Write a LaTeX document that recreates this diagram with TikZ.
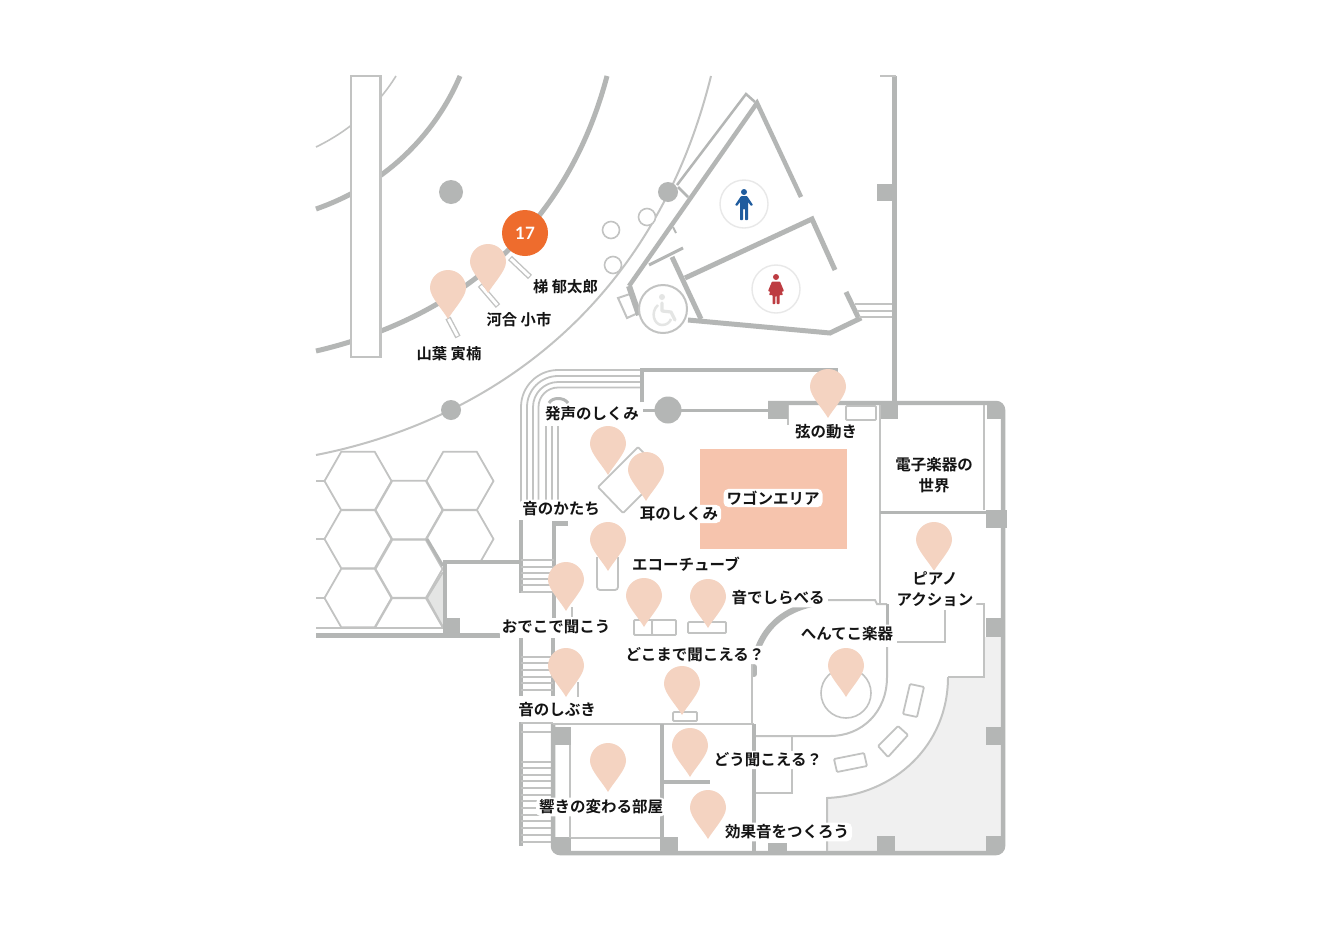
\documentclass[tikz,border=0pt]{standalone}
\usepackage{fontspec}
\setmainfont{Noto Sans CJK JP}[BoldFont=* Bold]
\newfontfamily\numfont{Lato}[UprightFont=* Bold]
\definecolor{wall}{HTML}{B4B6B5}
\definecolor{thin}{HTML}{C2C3C2}
\definecolor{pinc}{HTML}{F4D3C1}
\definecolor{pinkarea}{HTML}{F6C4AD}
\definecolor{orangec}{HTML}{EE6C2D}
\definecolor{lightg}{HTML}{F0F0F0}
\definecolor{tri}{HTML}{E4E5E4}
\definecolor{bluep}{HTML}{1F5C9E}
\definecolor{redp}{HTML}{BD3C42}
\tikzset{
 w/.style={draw=wall,line width=#1,line cap=butt,line join=miter},
 w/.default=4.5,
 t/.style={draw=thin,line width=#1},
 t/.default=2,
 pillar/.style={fill=wall,draw=none},
 item/.style={draw=thin,line width=1.8,fill=white,rounded corners=1},
 lab/.style={inner xsep=3,inner ysep=2,outer sep=0,align=center,fill=white,rounded corners=5,font=\fontsize{15.5bp}{21bp}\selectfont\bfseries,text=black!92},
 nameplain/.style={inner sep=0,outer sep=0,align=center,font=\fontsize{15.3bp}{21bp}\selectfont\bfseries,text=black!92},
}
\newcommand{\pinat}[2]{\fill[pinc] (#1,#2) .. controls (#1-5,#2-9) and (#1-18,#2-22) .. (#1-18,#2-31) .. controls (#1-18,#2-41) and (#1-10,#2-49) .. (#1,#2-49) .. controls (#1+10,#2-49) and (#1+18,#2-41) .. (#1+18,#2-31) .. controls (#1+18,#2-22) and (#1+5,#2-9) .. cycle;}
\newcommand{\hexat}[2]{\draw[t=1.8,line join=round] (#1-33.5,#2) -- (#1-16.7,#2-29.3) -- (#1+16.7,#2-29.3) -- (#1+33.5,#2) -- (#1+16.7,#2+29.3) -- (#1-16.7,#2+29.3) -- cycle;}
\begin{document}
\begin{tikzpicture}[x=1bp,y=-1bp]
\useasboundingbox (0,0) rectangle (1328,940);
\fill[white] (0,0) rectangle (1328,940);
% --- gray area
\fill[lightg] (983,637) -- (1001,637) -- (1001,851) -- (827,851) -- (827,798) .. controls (895,795) and (948,745) .. (948,677) -- (983,677) -- cycle;
\fill[pinkarea] (700,449) rectangle (847,549);
% --- thin arcs
\draw[t=1.6] (316,147) .. controls (345,133) and (375,110) .. (396,76);
\draw[t=2] (316,455) .. controls (470,425) and (650,322) .. (711,76);
% --- thick arcs
\draw[w=5] (316,209) .. controls (385,185) and (435,135) .. (460,76);
\draw[w=5] (316,351) .. controls (450,320) and (565,235) .. (607,76);
\filldraw[draw=thin,line width=2.5,fill=white] (351,76) rectangle (380.5,357);
\fill[wall] (451,192) circle [radius=12];
\fill[wall] (451,410) circle [radius=10];
\fill[wall] (668,192) circle [radius=10];
\foreach \a/\b in {611/230,647/217,613/265} \draw[t=1.6,fill=white] (\a,\b) circle [radius=8.5];
% statues
\foreach \a/\b/\c/\d in {510/258/530/277,480/285/498/306,448/318/458/337}{
 \draw[draw=thin,line width=5.8] (\a,\b) -- (\c,\d);
 \draw[draw=white,line width=3,shorten >=1.2,shorten <=1.2] (\a,\b) -- (\c,\d);
}
% --- washrooms
\draw[w=2.5] (677,185) -- (746,94) -- (755,102);
\draw[w=2.5] (678,187) -- (688,197);
\draw[w=4.5,line join=miter] (629,286) -- (757,103) -- (801,197);
\draw[w=2] (673,227) -- (676,233);
\draw[w=3] (649,265) -- (683,248);
\draw[t=2,fill=white] (618,298) -- (630,294) -- (638,313) -- (627,318) -- cycle;
\draw[w=6] (629,286) -- (639,315);
\draw[w=5] (672,257) -- (701,319);
\draw[w=5] (688,320) -- (830,333) -- (859,319) -- (846,292);
\draw[w=5] (685,278) -- (812,219) -- (835,270);
\draw[t=2] (855,304) -- (892,304);
\draw[t=2] (857,311) -- (892,311);
\draw[t=2] (859,317) -- (892,317);
\draw[t=2,fill=white] (663,309) circle [radius=24];
\fill[tri] (662,297) circle [radius=3];
\draw[draw=tri,line width=3.2,line join=round,line cap=round] (662,303) -- (662,311) -- (671,312) -- (675,320);
\draw[draw=tri,line width=2.5] (658,305) .. controls (650,312) and (654,325) .. (662,325) .. controls (667,325) and (670,322) .. (671,319);
\draw[draw=black!9,line width=1.4,fill=white] (744,204) circle [radius=24];
\draw[draw=black!9,line width=1.4,fill=white] (776,289) circle [radius=24];
\fill[bluep] (744,192) circle [radius=3];
\fill[bluep,rounded corners=.7] (741,196) -- (747,196) -- (753,205) -- (751,206) -- (748,202) -- (748,220) -- (745,220) -- (745,209) -- (743,209) -- (743,220) -- (740,220) -- (740,202) -- (737,206) -- (735,205) -- cycle;
\fill[redp] (776,277) circle [radius=3];
\fill[redp,rounded corners=.7] (772,281.5) -- (780,281.5) -- (784,291) -- (782,292) -- (780.5,288) -- (783,295) -- (779.5,295) -- (779.5,304) -- (776.7,304) -- (776.7,296) -- (775.3,296) -- (775.3,304) -- (772.5,304) -- (772.5,295) -- (769,295) -- (771.5,288) -- (770,292) -- (768,291) -- cycle;
% right long wall
\draw[w=5] (894,76) -- (894,403);
\draw[t=2] (880,76) -- (896,76);
\fill[pillar] (877,184) rectangle (892,201);
% --- hexagons
\begin{scope}
\clip (316,450) rectangle (443,628);
\foreach \a/\b in {358/481,358/539,358/598,409/510,409/569,409/627}{\hexat{\a}{\b}}
\end{scope}
\begin{scope}
\clip (316,450) rectangle (500,562);
\foreach \a/\b in {460/481,460/539}{\hexat{\a}{\b}}
\end{scope}
\draw[t=1.8] (316,481) -- (325,481);
\draw[t=1.8] (316,539) -- (325,539);
\draw[t=1.8] (316,598) -- (325,598);
\draw[t=1.5] (316,628) -- (445,628);
\fill[tri] (427,598) -- (443,572) -- (443,627) -- cycle;
\draw[t=1.8] (427,598) -- (443,572);
\draw[t=1.8] (427,598) -- (443,627);
\draw[w=3] (427,539) -- (443,566);
% --- room at left
\draw[w=5] (500,635) -- (316,635);
\draw[w=5] (445,635) -- (445,562);
\draw[w=4.5] (443,562) -- (521,562);
\fill[pillar] (445,618) rectangle (460,636);
% --- curved stairs
\foreach \r in {37,31,25,19.5}{
 \draw[t=1.8] (640,407-\r) -- (558,407-\r) .. controls (558-.55*\r,407-\r) and (558-\r,407-.55*\r) .. (558-\r,407) -- (558-\r,502);
}
\draw[t=1.8] (546,426) -- (546,502);
\draw[t=1.8] (552,426) -- (552,502);
\draw[t=1.8] (558,426) -- (558,502);
\draw[w=3] (549,403) .. controls (552,397) and (564,397) .. (568,403);
\draw[w=4.5] (642,402) -- (642,370) -- (838,370);
\draw[w=3] (643,410) -- (770,410);
\fill[wall] (668,410) circle [radius=13.5];
% stairs left straight
\draw[w=4] (521,520) -- (521,593);
\draw[w=4] (554,523) -- (554,620);
\draw[w=5] (552,523) -- (568,523);
\foreach \y in {560,567,573,579,585,592} \draw[t=1.6] (521,\y) -- (554,\y);
\draw[t=1.4] (572,607) -- (572,617);
\draw[w=4] (521,638) -- (521,696);
\draw[w=4] (553,638) -- (553,696);
\foreach \y in {657,663,670,677,683,690} \draw[t=1.6] (521,\y) -- (553,\y);
\draw[t=1.4] (578,682) -- (578,697);
\draw[w=4] (521,722) -- (521,846);
\foreach \y in {723,732,762,768,775,781,788,795,801,808,815,821,828,835,842} \draw[t=1.6] (521,\y) -- (553,\y);
% --- items
\draw[item] (638,447) -- (663,473) -- (623,513) -- (598,487) -- cycle;
\draw[t=1.8,rounded corners=3] (597,557) -- (597,590) -- (618,590) -- (618,557);
\draw[item] (634,620) rectangle (653,635);
\draw[item] (652,620) rectangle (676,635);
\draw[item] (688,622) rectangle (726,633);
\draw[item] (673,712) rectangle (697,721);
\draw[t=1.6] (846,693) circle [radius=25];
\draw[item] (910,684) -- (924,687) -- (917,717) -- (903,714) -- cycle;
\draw[item] (898,726) -- (908,735) -- (888,757) -- (878,746) -- cycle;
\draw[item] (834,759) -- (864,753) -- (867,766) -- (837,772) -- cycle;
\draw[t=1.6] (788,405) -- (788,425);
\draw[item] (846,406) rectangle (876,420);
% --- main building
\draw[w=4.5,rounded corners=7] (768,403) -- (1003,403) -- (1003,853) -- (553,853) -- (553,724);
\fill[pillar] (768,401) rectangle (788,419);
\fill[pillar] (879,405) rectangle (898,419);
\fill[pillar] (987,405) rectangle (1002,419);
\fill[pillar] (986,510) rectangle (1007,528);
\fill[pillar] (986,618) rectangle (1002,637);
\fill[pillar] (986,727) rectangle (1002,745);
\fill[pillar] (877,836) rectangle (895,851);
\fill[pillar] (986,836) rectangle (1002,851);
\fill[pillar] (553,727) rectangle (571,745);
\fill[pillar] (553,837) rectangle (571,851);
\fill[pillar] (660,837) rectangle (678,851);
\fill[pillar] (768,843) rectangle (787,851);
% inner rooms
\draw[t=2] (880,405) -- (880,605);
\draw[w=3] (880,512) -- (986,512);
\draw[t=2] (984,405) -- (984,510);
\draw[t=2] (828,600) -- (875,600) -- (877,604) -- (887,604);
\draw[w=3] (887,604) -- (887,625);
\draw[t=2.5] (945,610) -- (945,642) -- (897,642);
\draw[t=2] (976,604) -- (983.5,604) -- (983.5,677) -- (948,677);
\draw[t=2] (948,677) .. controls (948,745) and (895,795) .. (827,798) -- (827,851);
\draw[t=2] (887,647) -- (887,677) .. controls (887,712) and (862,736) .. (830,736) -- (754,736);
\draw[w=6] (758,648) .. controls (767,625) and (785,610) .. (812,604);
\draw[w=6,line cap=round] (754,667) -- (754,674);
\draw[t=2] (752,663) -- (752,724);
\draw[t=2] (553,724) -- (754,724);
\draw[w=4] (754,724) -- (754,851);
\draw[w=4] (662,724) -- (662,838);
\draw[w=3.5] (662,782) -- (710,782);
\draw[t=2] (570,745) -- (570,838);
\draw[t=2] (571,838) -- (660,838);
\draw[t=2] (792,736) -- (792,793) -- (756,793);
% --- pins
\pinat{448}{319}\pinat{488}{293}\pinat{828}{418}\pinat{608}{475}\pinat{646}{501}
\pinat{608}{571}\pinat{566}{611}\pinat{644}{627}\pinat{708}{628}\pinat{934}{571}
\pinat{846}{697}\pinat{566}{697}\pinat{682}{715}\pinat{690}{777}\pinat{608}{792}\pinat{708}{839}
% --- number badge
\fill[orangec] (525,233) circle [radius=23];
\node[inner sep=0,text=white,font=\fontsize{17bp}{20bp}\selectfont\numfont] (num) at (525,233) {17};
% --- labels
\node[lab] (a) at (592,414) {発声のしくみ};
\node[lab] (b) at (826,432) {弦の動き};
\node[lab] (c) at (934,475.5) {電子楽器の\\世界};
\node[lab] (d) at (773,498) {ワゴンエリア};
\node[lab] (e) at (679,514) {耳のしくみ};
\node[lab] (f) at (561,509) {音のかたち};
\node[lab] (g) at (686,564) {エコーチューブ};
\node[lab] (h) at (778,598) {音でしらべる};
\node[lab] (i) at (935,589.5) {ピアノ\\アクション};
\node[lab] (j) at (847,634) {へんてこ楽器};
\node[lab] (k) at (556,627) {おでこで聞こう};
\node[lab] (m) at (695,655) {どこまで聞こえる？};
\node[lab] (n) at (557,710) {音のしぶき};
\node[lab] (o) at (768,760) {どう聞こえる？};
\node[lab] (p) at (601,807) {響きの変わる部屋};
\node[lab] (q) at (787,832) {効果音をつくろう};
\node[nameplain] (r) at (565.5,287) {梯 郁太郎};
\node[nameplain] (s) at (519,320) {河合 小市};
\node[nameplain] (u) at (449,354) {山葉 寅楠};
\end{tikzpicture}
\end{document}
